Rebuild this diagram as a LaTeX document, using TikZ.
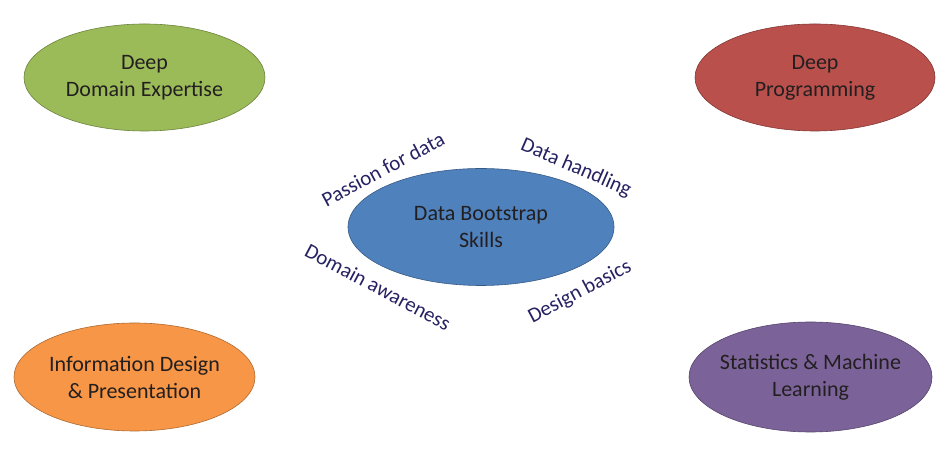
\documentclass[tikz,border=0pt]{standalone}
\usepackage{fontspec}
\setmainfont{Carlito}
\usetikzlibrary{shapes.geometric}
\definecolor{cgreen}{HTML}{9BBB59}
\definecolor{cred}{HTML}{BA504C}
\definecolor{corange}{HTML}{F79646}
\definecolor{cpurple}{HTML}{7B6399}
\definecolor{cblue}{HTML}{4F81BD}
\definecolor{ctext}{HTML}{231F20}
\definecolor{clabel}{HTML}{262262}
\tikzset{
  bubble/.style={ellipse, draw=#1!70!black, line width=0.6pt, fill=#1, inner sep=0pt},
  btext/.style={text=ctext, align=center, font=\fontsize{22}{27}\selectfont, inner sep=0pt},
  lbl/.style={text=clabel, font=\fontsize{21}{25}\selectfont, inner sep=0pt}
}
\begin{document}
\begin{tikzpicture}[x=1pt,y=1pt]
\useasboundingbox (0,0) rectangle (952,465);
\node[bubble=cgreen, minimum width=241pt, minimum height=107pt] (dom) at (144.5,387.5) {};
\node[btext] (domt) at (dom) {Deep\\Domain Expertise};
\node[bubble=cred, minimum width=240pt, minimum height=107pt] (prog) at (815,387.5) {};
\node[btext] (progt) at (prog) {Deep\\Programming};
\node[bubble=corange, minimum width=241pt, minimum height=108pt] (info) at (134.5,88) {};
\node[btext] (infot) at (info) {Information Design\\\& Presentation};
\node[bubble=cpurple, minimum width=243pt, minimum height=110pt] (stat) at (810.5,88) {};
\node[btext] (statt) at (stat) {Statistics \& Machine\\Learning};
\node[bubble=cblue, minimum width=266pt, minimum height=117pt] (core) at (481,238) {};
\node[btext] (coret) at (core) {Data Bootstrap\\Skills};
\node[lbl, rotate=28] (pass) at (383,296) {Passion for data};
\node[lbl, rotate=-23.5] (handle) at (576,297) {Data handling};
\node[lbl, rotate=-28] (aware) at (378,178) {Domain awareness};
\node[lbl, rotate=28] (design) at (580,173) {Design basics};
\end{tikzpicture}
\end{document}
